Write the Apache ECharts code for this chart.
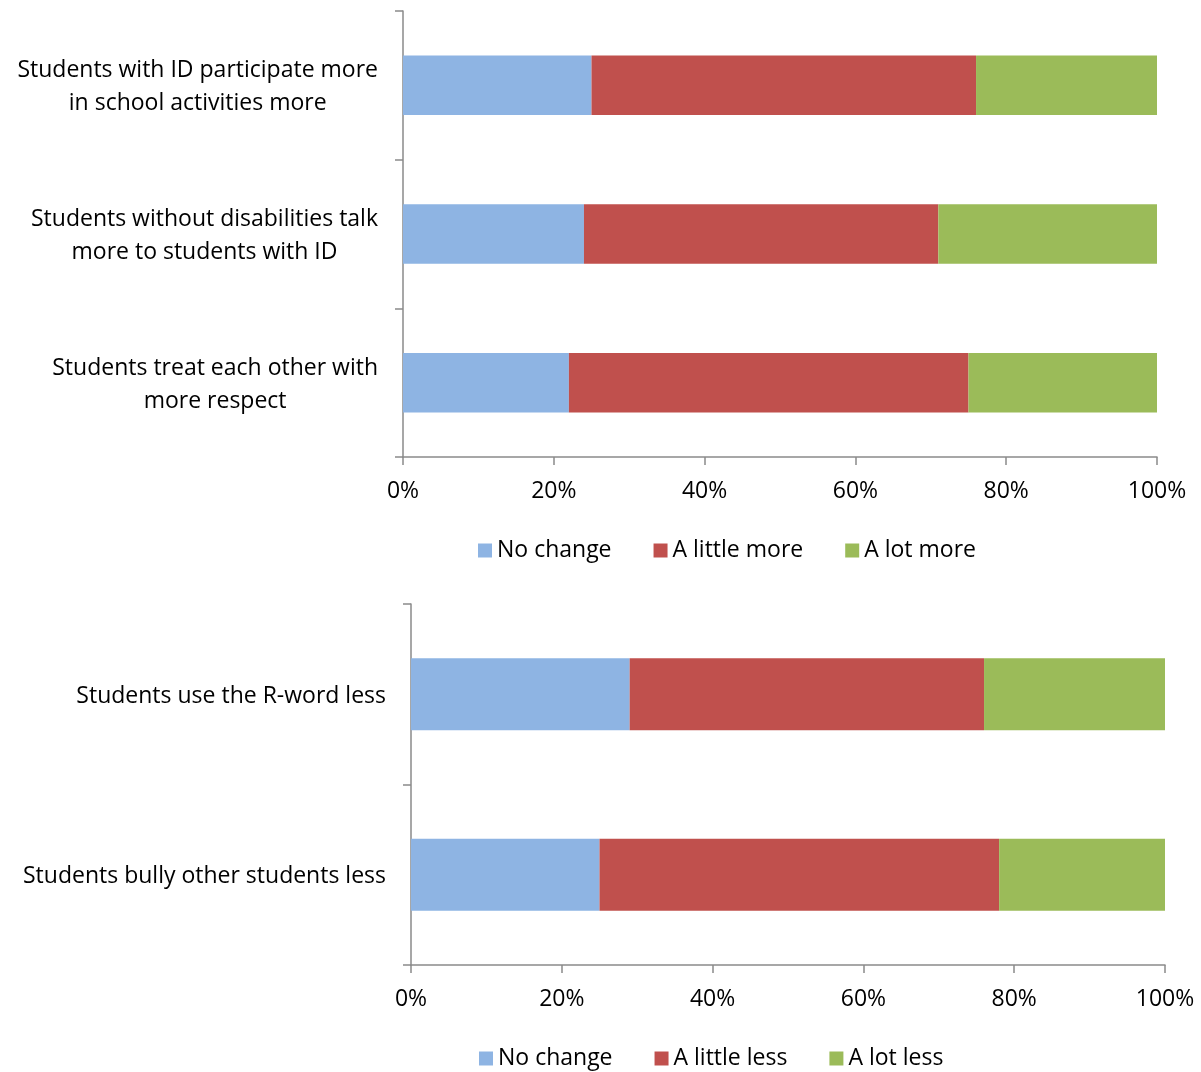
<!DOCTYPE html>
<html>
<head>
<meta charset="utf-8">
<script src="https://cdn.jsdelivr.net/npm/echarts@6/dist/echarts.min.js"></script>
<style>
  html, body { margin: 0; padding: 0; background: #fff; }
  #chart { width: 1201px; height: 1072px; }
</style>
</head>
<body>
<div id="chart"></div>
<script>
// top chart
const topCategories = [
  'Students with ID participate more\nin school activities more',
  'Students without disabilities talk\nmore to students with ID',
  'Students treat each other with\nmore respect'
]
const topNoChange = [25, 24, 22]
const topLittleMore = [51, 47, 53]
const topLotMore = [24, 29, 25]

// bottom chart
const bottomCategories = ['Students use the R-word less', 'Students bully other students less']
const bottomNoChange = [29, 25]
const bottomLittleLess = [47, 53]
const bottomLotLess = [24, 22]

const percentTicks = [0, 20, 40, 60, 80, 100]

const FONT = 'Open Sans'
const FONT_SIZE = 23
const AXIS_COLOR = '#8a8a8a'
const colors = { none: '#8EB4E3', little: '#C0504D', lot: '#9BBB59' }

const chart = echarts.init(document.getElementById('chart'))

const valueAxis = (gridIndex) => ({
  type: 'value',
  gridIndex,
  min: percentTicks[0],
  max: percentTicks[percentTicks.length - 1],
  interval: percentTicks[1] - percentTicks[0],
  axisLine: { show: true, lineStyle: { color: AXIS_COLOR, width: 1.5 } },
  axisTick: { show: true, length: 8, lineStyle: { color: AXIS_COLOR, width: 1.5 } },
  splitLine: { show: false },
  axisLabel: {
    formatter: '{value}%',
    color: '#000',
    fontFamily: FONT,
    fontSize: FONT_SIZE,
    margin: 23
  }
})

const categoryAxis = (gridIndex, data) => ({
  type: 'category',
  gridIndex,
  data,
  inverse: true,
  axisLine: { show: true, lineStyle: { color: AXIS_COLOR, width: 1.5 } },
  axisTick: { show: true, length: 8, lineStyle: { color: AXIS_COLOR, width: 1.5 } },
  axisLabel: {
    margin: 25,
    align: 'right',
    padding: [4, 0, 0, 0],
    formatter: (v) => v.split('\n').map(l => '{c|' + l + '}').join('\n'),
    rich: {
      c: { align: 'center', color: '#000', fontFamily: FONT, fontSize: FONT_SIZE, lineHeight: 33 }
    }
  }
})

const barSeries = (name, data, color, axisIndex, stack) => ({
  name,
  type: 'bar',
  stack,
  xAxisIndex: axisIndex,
  yAxisIndex: axisIndex,
  barWidth: '40%',
  itemStyle: { color },
  emphasis: { disabled: true },
  data
})

const legendBase = {
  icon: 'rect',
  itemWidth: 14,
  itemHeight: 14,
  itemGap: 42,
  textStyle: { color: '#000', fontFamily: FONT, fontSize: FONT_SIZE },
  selectedMode: false
}

const option = {
  animation: false,
  backgroundColor: '#fff',
  grid: [
    { left: 403, top: 11, width: 754, height: 446 },
    { left: 411, top: 604, width: 754, height: 361 }
  ],
  xAxis: [valueAxis(0), valueAxis(1)],
  yAxis: [categoryAxis(0, topCategories), categoryAxis(1, bottomCategories)],
  legend: [
    { ...legendBase, left: 473, top: 534, data: ['No change', 'A little more', 'A lot more'] },
    { ...legendBase, left: 474, top: 1042, data: ['No change', 'A little less', 'A lot less'] }
  ],
  series: [
    barSeries('No change', topNoChange, colors.none, 0, 'top'),
    barSeries('A little more', topLittleMore, colors.little, 0, 'top'),
    barSeries('A lot more', topLotMore, colors.lot, 0, 'top'),
    barSeries('No change', bottomNoChange, colors.none, 1, 'bottom'),
    barSeries('A little less', bottomLittleLess, colors.little, 1, 'bottom'),
    barSeries('A lot less', bottomLotLess, colors.lot, 1, 'bottom')
  ]
}

chart.setOption(option)
</script>
</body>
</html>
